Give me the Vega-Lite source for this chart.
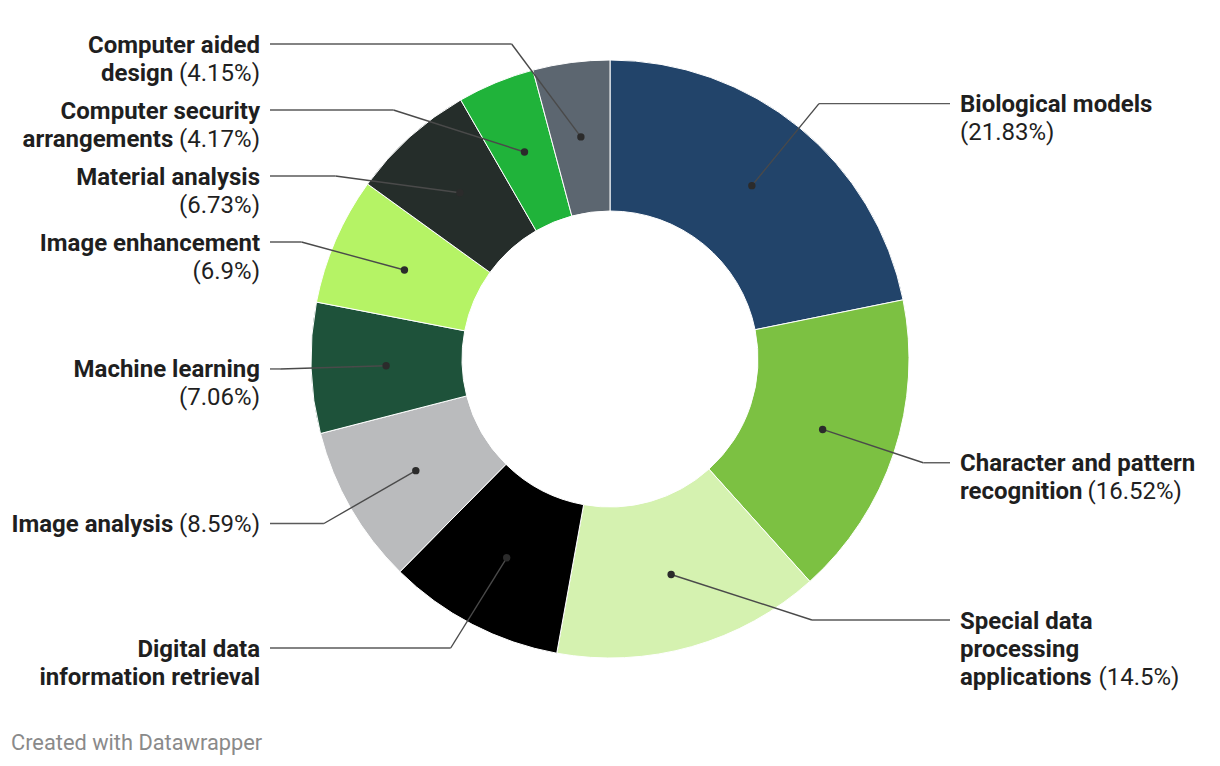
{
  "$schema": "https://vega.github.io/schema/vega-lite/v6.json",
  "width": 1220,
  "height": 718,
  "autosize": {"type": "none"},
  "padding": {"left": 0, "right": 0, "top": 0, "bottom": 48},
  "background": "white",
  "config": {"view": {"stroke": null}, "font": "Roboto"},
  "title": {
    "text": "Created with Datawrapper",
    "orient": "bottom",
    "anchor": "start",
    "frame": "group",
    "offset": 15,
    "dx": 11,
    "font": "Roboto",
    "fontSize": 21.8,
    "fontWeight": "normal",
    "color": "#8a8a8a"
  },
  "data": {
    "values": [
      {"name": "Biological models", "pct": 21.83, "b": ["Biological models", ""], "r": ["", "(21.83%)"]},
      {"name": "Character and pattern recognition", "pct": 16.52, "b": ["Character and pattern", "recognition"], "r": ["", "(16.52%)"]},
      {"name": "Special data processing applications", "pct": 14.5, "b": ["Special data", "processing", "applications"], "r": ["", "", "(14.5%)"]},
      {"name": "Digital data information retrieval", "pct": 9.55, "b": ["Digital data", "information retrieval"], "r": ["", ""]},
      {"name": "Image analysis", "pct": 8.59, "b": ["Image analysis"], "r": ["(8.59%)"]},
      {"name": "Machine learning", "pct": 7.06, "b": ["Machine learning", ""], "r": ["", "(7.06%)"]},
      {"name": "Image enhancement", "pct": 6.9, "b": ["Image enhancement", ""], "r": ["", "(6.9%)"]},
      {"name": "Material analysis", "pct": 6.73, "b": ["Material analysis", ""], "r": ["", "(6.73%)"]},
      {"name": "Computer security arrangements", "pct": 4.17, "b": ["Computer security", "arrangements"], "r": ["", "(4.17%)"]},
      {"name": "Computer aided design", "pct": 4.15, "b": ["Computer aided", "design"], "r": ["", "(4.15%)"]}
    ]
  },
  "transform": [
    {"window": [{"op": "row_number", "as": "idx"}]},
    {"window": [{"op": "sum", "field": "pct", "as": "cum"}], "sort": [{"field": "idx"}], "frame": [null, 0]},
    {"calculate": "(datum.cum - datum.pct/2)/100*2*PI", "as": "mid"},
    {"calculate": "224*sin(datum.mid)", "as": "px"},
    {"calculate": "-224*cos(datum.mid)", "as": "py"},
    {"calculate": "sin(datum.mid) >= 0 ? 1 : -1", "as": "side"},
    {"calculate": "-330*cos(datum.mid)", "as": "s"},
    {"calculate": "length(datum.b)", "as": "nl"},
    {"calculate": "clamp(datum.s, -315, 317 - 28*(datum.nl-1))", "as": "c"},
    {"calculate": "datum.nl*28 + 10", "as": "g"},
    {"window": [{"op": "sum", "field": "g", "as": "Gi"}], "groupby": ["side"], "sort": [{"field": "s"}], "frame": [null, 0]},
    {"calculate": "datum.Gi - datum.g", "as": "G"},
    {"calculate": "datum.c - datum.G", "as": "d"},
    {"window": [{"op": "max", "field": "d", "as": "M"}], "groupby": ["side"], "sort": [{"field": "s"}], "frame": [null, 0]},
    {"calculate": "datum.G + datum.M", "as": "ly"},
    {"calculate": "datum.side*sqrt(max(0, 330*330 - datum.ly*datum.ly))", "as": "ex"},
    {"calculate": "datum.side*340", "as": "hx"}
  ],
  "layer": [
    {
      "mark": {"type": "arc", "innerRadius": 148, "outerRadius": 299, "stroke": "white", "strokeWidth": 1},
      "encoding": {
        "theta": {"field": "pct", "type": "quantitative", "stack": true},
        "order": {"field": "idx", "type": "quantitative"},
        "color": {
          "field": "name",
          "type": "nominal",
          "legend": null,
          "scale": {
            "domain": ["Biological models", "Character and pattern recognition", "Special data processing applications", "Digital data information retrieval", "Image analysis", "Machine learning", "Image enhancement", "Material analysis", "Computer security arrangements", "Computer aided design"],
            "range": ["#22446a", "#7cc142", "#d5f2b0", "#000000", "#babbbd", "#1e523a", "#b5f365", "#252d2a", "#20b33a", "#5c6670"]
          }
        }
      }
    },
    {
      "mark": {"type": "rule", "color": "#4a4a4a", "strokeWidth": 1.4},
      "encoding": {
        "x": {"field": "px", "type": "quantitative", "scale": {"domain": [-610, 610], "nice": false, "zero": false}, "axis": null},
        "y": {"field": "py", "type": "quantitative", "scale": {"domain": [-359, 359], "reverse": true, "nice": false, "zero": false}, "axis": null},
        "x2": {"field": "ex"},
        "y2": {"field": "ly"}
      }
    },
    {
      "mark": {"type": "rule", "color": "#5a5a5a", "strokeWidth": 1.4},
      "encoding": {
        "x": {"field": "ex", "type": "quantitative", "scale": {"domain": [-610, 610], "nice": false, "zero": false}, "axis": null},
        "y": {"field": "ly", "type": "quantitative", "scale": {"domain": [-359, 359], "reverse": true, "nice": false, "zero": false}, "axis": null},
        "x2": {"field": "hx"},
        "y2": {"field": "ly"}
      }
    },
    {
      "mark": {"type": "point", "filled": true, "size": 55, "color": "#2b2b2b", "opacity": 1},
      "encoding": {
        "x": {"field": "px", "type": "quantitative", "scale": {"domain": [-610, 610], "nice": false, "zero": false}, "axis": null},
        "y": {"field": "py", "type": "quantitative", "scale": {"domain": [-359, 359], "reverse": true, "nice": false, "zero": false}, "axis": null}
      }
    },
    {
      "transform": [
        {"flatten": ["b", "r"], "as": ["bt", "rt"]},
        {"window": [{"op": "row_number", "as": "li"}], "groupby": ["name"]},
        {"calculate": "datum.ly + (datum.li-1)*28", "as": "ty"},
        {"filter": "datum.side > 0 && datum.bt != ''"},
        {"calculate": "350", "as": "tx"}
      ],
      "mark": {"type": "text", "align": "left", "baseline": "middle", "dy": 1.5, "font": "Roboto", "fontSize": 24, "fontWeight": "bold", "color": "#1f1f1f"},
      "encoding": {
        "x": {"field": "tx", "type": "quantitative", "scale": {"domain": [-610, 610], "nice": false, "zero": false}, "axis": null},
        "y": {"field": "ty", "type": "quantitative", "scale": {"domain": [-359, 359], "reverse": true, "nice": false, "zero": false}, "axis": null},
        "text": {"field": "bt"}
      }
    },
    {
      "transform": [
        {"flatten": ["b", "r"], "as": ["bt", "rt"]},
        {"window": [{"op": "row_number", "as": "li"}], "groupby": ["name"]},
        {"calculate": "datum.ly + (datum.li-1)*28", "as": "ty"},
        {"filter": "datum.side > 0 && datum.rt != ''"},
        {"calculate": "350 + (datum.bt != '' ? 0.46*24*length(datum.bt) + 6 : 0)", "as": "tx"}
      ],
      "mark": {"type": "text", "align": "left", "baseline": "middle", "dy": 1.5, "font": "Roboto", "fontSize": 24, "fontWeight": "normal", "color": "#1f1f1f"},
      "encoding": {
        "x": {"field": "tx", "type": "quantitative", "scale": {"domain": [-610, 610], "nice": false, "zero": false}, "axis": null},
        "y": {"field": "ty", "type": "quantitative", "scale": {"domain": [-359, 359], "reverse": true, "nice": false, "zero": false}, "axis": null},
        "text": {"field": "rt"}
      }
    },
    {
      "transform": [
        {"flatten": ["b", "r"], "as": ["bt", "rt"]},
        {"window": [{"op": "row_number", "as": "li"}], "groupby": ["name"]},
        {"calculate": "datum.ly + (datum.li-1)*28", "as": "ty"},
        {"filter": "datum.side < 0 && datum.rt != ''"},
        {"calculate": "-350", "as": "tx"}
      ],
      "mark": {"type": "text", "align": "right", "baseline": "middle", "dy": 1.5, "font": "Roboto", "fontSize": 24, "fontWeight": "normal", "color": "#1f1f1f"},
      "encoding": {
        "x": {"field": "tx", "type": "quantitative", "scale": {"domain": [-610, 610], "nice": false, "zero": false}, "axis": null},
        "y": {"field": "ty", "type": "quantitative", "scale": {"domain": [-359, 359], "reverse": true, "nice": false, "zero": false}, "axis": null},
        "text": {"field": "rt"}
      }
    },
    {
      "transform": [
        {"flatten": ["b", "r"], "as": ["bt", "rt"]},
        {"window": [{"op": "row_number", "as": "li"}], "groupby": ["name"]},
        {"calculate": "datum.ly + (datum.li-1)*28", "as": "ty"},
        {"filter": "datum.side < 0 && datum.bt != ''"},
        {"calculate": "-350 - (datum.rt != '' ? 24*(1.68 + 0.5615*(length(datum.rt)-4)) + 6 : 0)", "as": "tx"}
      ],
      "mark": {"type": "text", "align": "right", "baseline": "middle", "dy": 1.5, "font": "Roboto", "fontSize": 24, "fontWeight": "bold", "color": "#1f1f1f"},
      "encoding": {
        "x": {"field": "tx", "type": "quantitative", "scale": {"domain": [-610, 610], "nice": false, "zero": false}, "axis": null},
        "y": {"field": "ty", "type": "quantitative", "scale": {"domain": [-359, 359], "reverse": true, "nice": false, "zero": false}, "axis": null},
        "text": {"field": "bt"}
      }
    }
  ]
}
